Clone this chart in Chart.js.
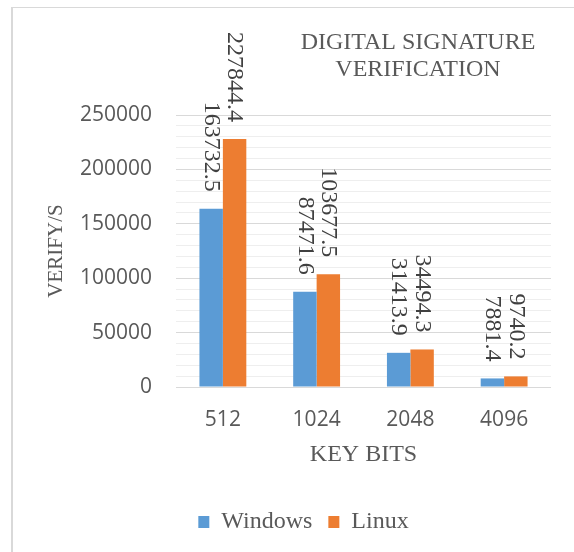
<!DOCTYPE html>
<html>
<head>
<meta charset="utf-8">
<script src="https://cdn.jsdelivr.net/npm/chart.js@4"></script>
<style>
  body { margin: 0; background: #fff; }
</style>
</head>
<body>
<canvas id="myChart" width="574" height="552"></canvas>
<script>
// data
var keyBits = ['512', '1024', '2048', '4096'];
var windowsValues = [163732.5, 87471.6, 31413.9, 7881.4];
var linuxValues = [227844.4, 103677.5, 34494.3, 9740.2];
var titleLines = ['DIGITAL SIGNATURE', 'VERIFICATION'];
var yMax = 250000;
var yLabelStep = 50000;
var yGridStep = 10000;

var textGrey = '#595959';

// chart frame + two-line title (Excel style, title sits to the right)
var frameAndTitle = {
    id: 'frameAndTitle',
    beforeDraw: function(chart) {
        var ctx = chart.ctx;
        ctx.save();
        ctx.fillStyle = '#fff';
        ctx.fillRect(0, 0, chart.width, chart.height);
        ctx.strokeStyle = '#d9d9d9';
        ctx.lineWidth = 1;
        ctx.beginPath();
        ctx.moveTo(12, 7.5);
        ctx.lineTo(chart.width, 7.5);
        ctx.stroke();
        ctx.lineWidth = 2;
        ctx.beginPath();
        ctx.moveTo(12, 7);
        ctx.lineTo(12, chart.height);
        ctx.stroke();
        ctx.restore();
    },
    afterDraw: function(chart) {
        var ctx = chart.ctx;
        ctx.save();
        ctx.font = '24px "Liberation Serif"';
        ctx.fillStyle = textGrey;
        ctx.textAlign = 'center';
        ctx.textBaseline = 'middle';
        titleLines.forEach(function(line, i) {
            ctx.fillText(line, 418, 43 + i * 27);
        });
        ctx.restore();
    }
};

// rotated value labels above each bar
var barLabels = {
    id: 'barLabels',
    afterDatasetsDraw: function(chart) {
        var ctx = chart.ctx;
        ctx.save();
        ctx.font = '24px "Liberation Serif"';
        ctx.fillStyle = '#404040';
        ctx.textAlign = 'right';
        ctx.textBaseline = 'middle';
        chart.data.datasets.forEach(function(ds, i) {
            chart.getDatasetMeta(i).data.forEach(function(bar, j) {
                ctx.save();
                ctx.translate(bar.x, bar.y - 17);
                ctx.rotate(Math.PI / 2);
                ctx.fillText(String(ds.data[j]), 0, 0);
                ctx.restore();
            });
        });
        ctx.restore();
    }
};

document.addEventListener('DOMContentLoaded', function() {
    var ctx = document.getElementById('myChart').getContext('2d');
    var myChart = new Chart(ctx, {
        type: 'bar',
        data: {
            labels: keyBits,
            datasets: [{
                label: 'Windows',
                data: windowsValues,
                backgroundColor: '#5b9bd5',
                borderWidth: 0,
                categoryPercentage: 0.5,
                barPercentage: 1.0
            }, {
                label: 'Linux',
                data: linuxValues,
                backgroundColor: '#ed7d31',
                borderWidth: 0,
                categoryPercentage: 0.5,
                barPercentage: 1.0
            }]
        },
        options: {
            responsive: false,
            animation: false,
            layout: {
                // left padding also centres the legend where Excel put it
                padding: { left: 56, right: 23, top: 115, bottom: 8 }
            },
            plugins: {
                title: { display: false },
                tooltip: { enabled: false },
                legend: {
                    position: 'bottom',
                    labels: {
                        boxWidth: 11,
                        boxHeight: 12,
                        padding: 16,
                        color: textGrey,
                        font: { family: 'Liberation Serif', size: 24 }
                    }
                }
            },
            scales: {
                x: {
                    grid: { display: false, drawTicks: false },
                    border: { display: false },
                    ticks: {
                        padding: 20,
                        color: textGrey,
                        font: { family: 'Open Sans', size: 21 }
                    },
                    title: {
                        display: true,
                        text: 'KEY BITS',
                        color: textGrey,
                        font: { family: 'Liberation Serif', size: 24 },
                        padding: { top: 0, bottom: 25 }
                    },
                    afterFit: function(scale) { scale.height = 107; }
                },
                y: {
                    min: 0,
                    max: yMax,
                    border: { display: false },
                    grid: {
                        drawTicks: false,
                        color: function(c) {
                            return c.tick && c.tick.value % yLabelStep === 0 ? '#d9d9d9' : '#eeeeee';
                        }
                    },
                    ticks: {
                        stepSize: yGridStep,
                        autoSkip: false,
                        padding: 24,
                        color: textGrey,
                        font: { family: 'Open Sans', size: 21 },
                        callback: function(value) {
                            return value % yLabelStep === 0 ? value : '';
                        }
                    },
                    title: {
                        display: true,
                        text: 'VERIFY/S',
                        color: textGrey,
                        font: { family: 'Liberation Serif', size: 21 },
                        padding: { top: -12, bottom: 4 }
                    },
                    afterFit: function(scale) { scale.width = 120; }
                }
            }
        },
        plugins: [frameAndTitle, barLabels]
    });
});
</script>
</body>
</html>
